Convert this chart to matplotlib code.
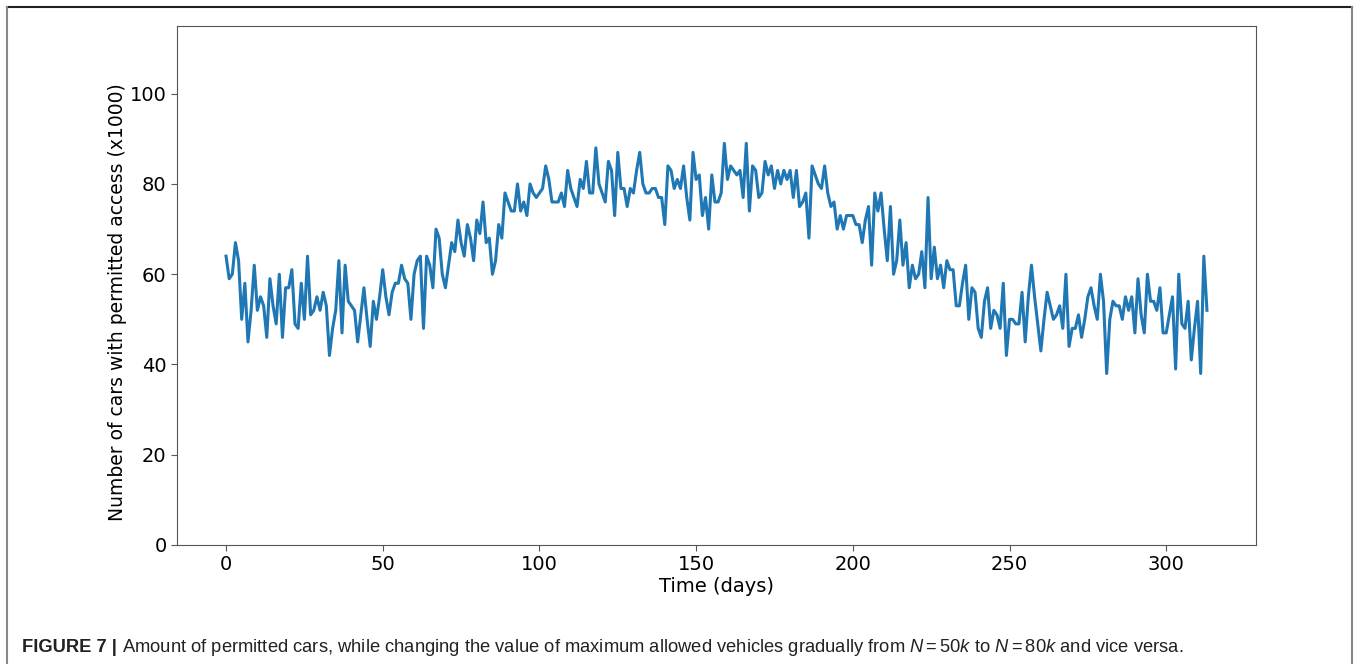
import matplotlib
matplotlib.use("Agg")
import matplotlib.pyplot as plt
from matplotlib.lines import Line2D
import numpy as np

# permitted cars per day (x1000)
cars = [
    64, 59, 60, 67, 63, 50, 58, 45, 52, 62, 52, 55, 53, 46, 59, 53, 49, 60, 46, 57,
    57, 61, 49, 48, 58, 50, 64, 51, 52, 55, 52, 56, 53, 42, 48, 52, 63, 47, 62, 54,
    53, 52, 45, 51, 57, 50, 44, 54, 50, 55, 61, 55, 51, 56, 58, 58, 62, 59, 58, 50,
    60, 63, 64, 48, 64, 62, 57, 70, 68, 60, 57, 62, 67, 65, 72, 67, 64, 71, 68, 63,
    72, 69, 76, 67, 68, 60, 63, 71, 68, 78, 76, 74, 74, 80, 74, 76, 73, 80, 78, 77,
    78, 79, 84, 81, 76, 76, 76, 78, 75, 83, 79, 77, 75, 81, 79, 85, 78, 78, 88, 80,
    78, 76, 85, 83, 73, 87, 79, 79, 75, 79, 78, 83, 87, 80, 78, 78, 79, 79, 77, 77,
    71, 84, 83, 79, 81, 79, 84, 77, 72, 87, 81, 82, 73, 77, 70, 82, 76, 76, 78, 89,
    81, 84, 83, 82, 83, 77, 89, 74, 84, 83, 77, 78, 85, 82, 84, 79, 83, 80, 83, 81,
    83, 77, 83, 75, 76, 78, 68, 84, 82, 80, 79, 84, 78, 75, 76, 70, 73, 70, 73, 73,
    73, 71, 71, 67, 72, 75, 62, 78, 74, 78, 70, 63, 75, 60, 63, 72, 62, 67, 57, 62,
    59, 60, 65, 57, 77, 59, 66, 59, 62, 57, 63, 61, 61, 53, 53, 58, 62, 50, 57, 56,
    48, 46, 54, 57, 48, 52, 51, 48, 58, 42, 50, 50, 49, 49, 56, 45, 55, 62, 55, 49,
    43, 50, 56, 53, 50, 51, 53, 48, 60, 44, 48, 48, 51, 46, 50, 55, 57, 53, 50, 60,
    54, 38, 50, 54, 53, 53, 50, 55, 52, 55, 47, 59, 51, 47, 60, 54, 54, 52, 57, 47,
    47, 51, 55, 39, 60, 49, 48, 54, 41, 48, 54, 38, 64, 52,
]
days = np.arange(len(cars))

xticks = [0, 50, 100, 150, 200, 250, 300]
yticks = [0, 20, 40, 60, 80, 100]

plt.rcParams["mathtext.fontset"] = "custom"
plt.rcParams["mathtext.rm"] = "Liberation Sans"
plt.rcParams["mathtext.it"] = "Liberation Sans:italic"

W, H = 1358, 664
fig = plt.figure(figsize=(W / 100, H / 100), dpi=100)
ax = fig.add_axes([177 / W, 1 - 545 / H, (1256 - 177) / W, (545 - 26) / H])
ax.plot(days, cars, color="#1f77b4", lw=2.2)
ax.set_ylim(0, 115)
ax.set_xticks(xticks)
ax.set_yticks(yticks)
ax.tick_params(labelsize=14, length=4, color="#555555")
for s in ax.spines.values():
    s.set_color("#555555")
ax.set_xlabel("Time (days)", fontsize=14, labelpad=2)
ax.set_ylabel("Number of cars with permitted access (x1000)", fontsize=13.5)
ax.yaxis.set_label_coords(-0.046, 0.468)

# figure frame (journal style)
fig.add_artist(Line2D([7 / W, 1352 / W], [1 - 7 / H, 1 - 7 / H], color="#222222", lw=1.5,
                      transform=fig.transFigure))
fig.add_artist(Line2D([7 / W, 7 / W], [0, 1 - 7 / H], color="#888888", lw=1.5,
                      transform=fig.transFigure))
fig.add_artist(Line2D([1352 / W, 1352 / W], [0, 1 - 7 / H], color="#888888", lw=1.5,
                      transform=fig.transFigure))

t1 = fig.text(22 / W, 1 - 648 / H, "FIGURE 7 |", fontsize=13.2, fontweight="bold",
              family="Liberation Sans", color="#222222", va="center")
fig.canvas.draw()
bb = t1.get_window_extent()
fig.text((bb.x1 + 5) / W, 1 - 648 / H,
         "Amount of permitted cars, while changing the value of maximum allowed vehicles "
         "gradually from $N = 50k$ to $N = 80k$ and vice versa.",
         fontsize=13.2, family="Liberation Sans", color="#222222", va="center")

fig.savefig("out.png", dpi=100)
